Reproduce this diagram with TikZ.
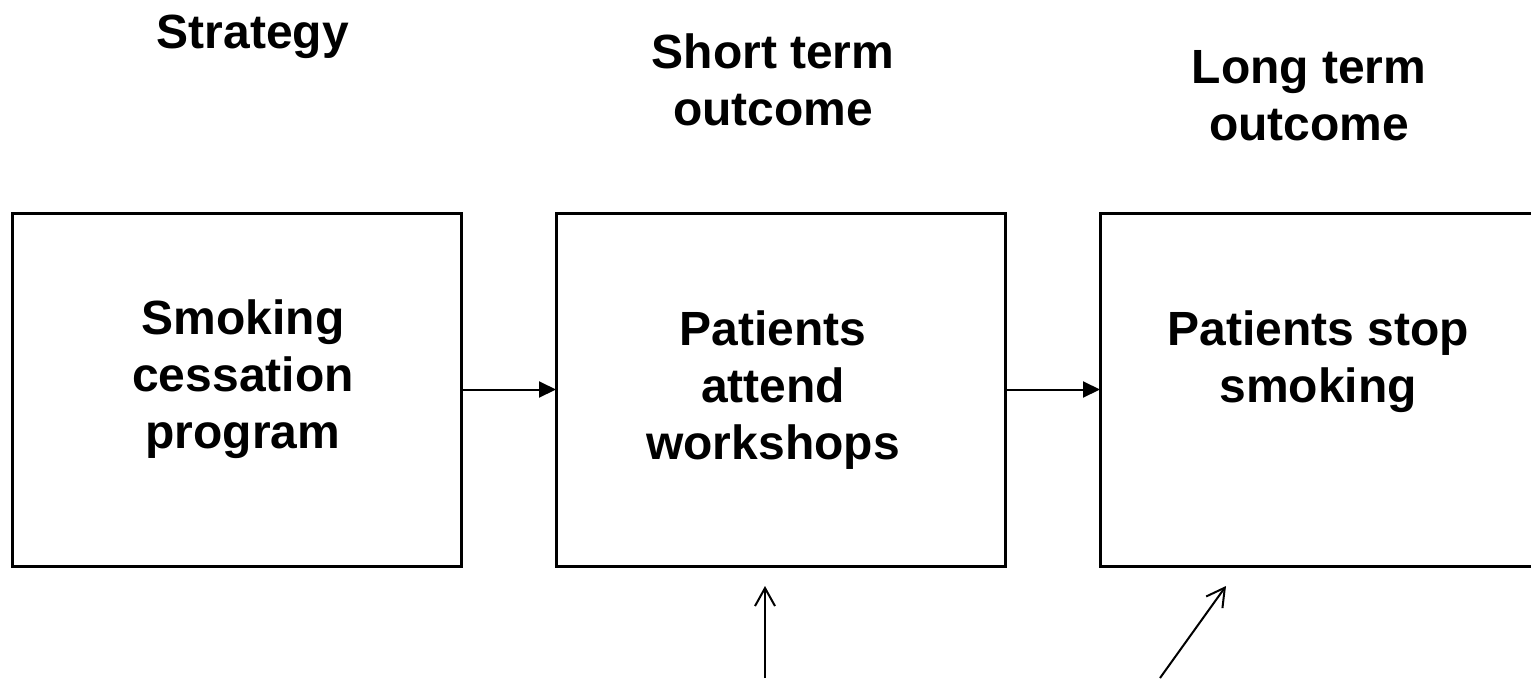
\documentclass[tikz,border=0pt]{standalone}
\usepackage{fontspec}
\setmainfont{Liberation Sans}
\usetikzlibrary{arrows.meta}
\begin{document}
\begin{tikzpicture}[x=1pt,y=-1pt,
  every node/.style={inner sep=0pt, outer sep=0pt},
  stagebox/.style={draw, line width=3pt, minimum width=449pt, minimum height=353pt},
  label/.style={font=\fontsize{48}{57}\selectfont\bfseries, align=center, anchor=base},
  flow/.style={line width=2pt, -{Triangle[length=17pt,width=16pt]}},
  factor/.style={line width=2pt, -{Straight Barb[length=18pt,width=20pt,line width=2pt]}}]
\useasboundingbox (0,0) rectangle (1531,678);

% column headings (anchor = baseline of the last line)
\node[label] (h1) at (253,48) {Strategy};
\node[label] (h2) at (773,125) {Short term\\outcome};
\node[label] (h3) at (1309,140) {Long term\\outcome};

% stage boxes
\node[stagebox] (b1) at (236.5,389.5) {};
\node[stagebox] (b2) at (780.5,389.5) {};
\node[stagebox] (b3) at (1324.5,389.5) {};

% box contents
\node[label] (t1) at (243,448) {Smoking\\cessation\\program};
\node[label] (t2) at (773,459) {Patients\\attend\\workshops};
\node[label] (t3) at (1318,402) {Patients stop\\smoking};

% causal chain
\draw[flow] (b1.east) -- (b2.west);
\draw[flow] (b2.east) -- (b3.west);

% external influences
\coordinate (p1) at (765,678);
\coordinate (q1) at (765,586);
\coordinate (p2) at (1160,678);
\coordinate (q2) at (1226,586);
\draw[factor] (p1) -- (q1);
\draw[factor] (p2) -- (q2);
\end{tikzpicture}
\end{document}
